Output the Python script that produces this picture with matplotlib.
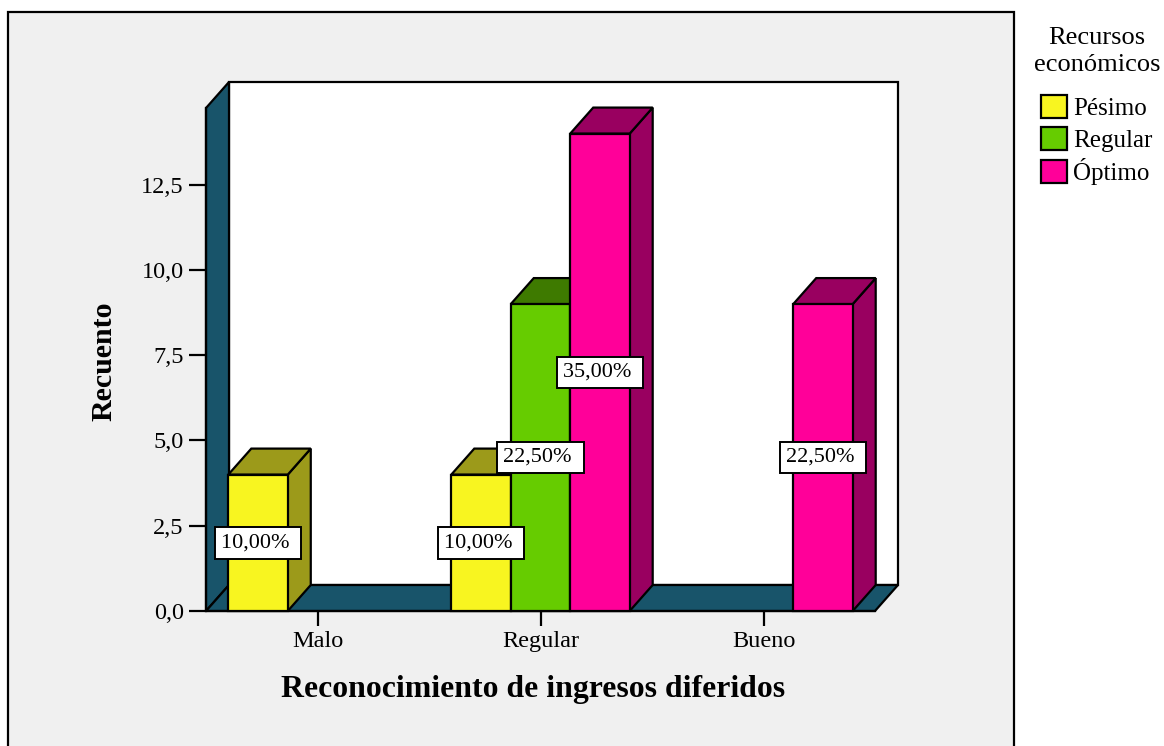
import matplotlib
matplotlib.use("Agg")
import matplotlib.pyplot as plt
from matplotlib.patches import Rectangle, Polygon, Patch

# ---- data ----
categories = ["Malo", "Regular", "Bueno"]
series = ["Pésimo", "Regular", "Óptimo"]
pesimo = [4, 4, 0]
regular = [0, 9, 0]
optimo = [0, 14, 9]
total = 40
yticks = [0.0, 2.5, 5.0, 7.5, 10.0, 12.5]
ytick_labels = ["0,0", "2,5", "5,0", "7,5", "10,0", "12,5"]
legend_title = "Recursos\neconómicos"
xlabel = "Reconocimiento de ingresos diferidos"
ylabel = "Recuento"

values = [pesimo, regular, optimo]
front_colors = ["#f8f520", "#66cc00", "#ff0099"]
dark_colors = ["#9c9a1a", "#3e7a00", "#990060"]
teal = "#18546a"

W, H = 1164, 746
fig = plt.figure(figsize=(W / 100, H / 100), dpi=100)
fig.patch.set_facecolor("white")
plt.rcParams["font.family"] = ["Liberation Serif", "DejaVu Serif"]

# outer grey frame
fig.patches.append(Rectangle((8 / W, -0.05), (1014 - 8) / W, (746 - 12) / H + 0.05,
                             transform=fig.transFigure, facecolor="#f0f0f0",
                             edgecolor="black", lw=1.6, zorder=-5))

left_px, right_px, y0_px, top_px = 206, 875, 611, 108
ax = fig.add_axes([left_px / W, (H - y0_px) / H, (right_px - left_px) / W,
                   (y0_px - top_px) / H])
ax.set_zorder(1)
ymax = 14.75
ax.set_xlim(-0.5, len(categories) - 0.5)
ax.set_ylim(0, ymax)
ax.set_facecolor("none")

# depth offsets (in data units) for the pseudo-3D look
DX = 23 * (len(categories)) / (right_px - left_px)
DY = 26 * ymax / (y0_px - top_px)
xl, xr = -0.5, len(categories) - 0.5

# back wall
ax.add_patch(Polygon([(xl + DX, DY), (xr + DX, DY), (xr + DX, ymax + DY), (xl + DX, ymax + DY)],
                     closed=True, facecolor="white", edgecolor="black", lw=1.6,
                     clip_on=False, zorder=0.5))
# left wall
ax.add_patch(Polygon([(xl, 0), (xl + DX, DY), (xl + DX, ymax + DY), (xl, ymax)],
                     closed=True, facecolor=teal, edgecolor="black", lw=1.6,
                     clip_on=False, zorder=0.6))
# floor
ax.add_patch(Polygon([(xl, 0), (xr, 0), (xr + DX, DY), (xl + DX, DY)],
                     closed=True, facecolor=teal, edgecolor="black", lw=1.6,
                     clip_on=False, zorder=0.6))

group = 0.8
bw = group / len(series)
z = 2
labels = []
for ci in range(len(categories)):
    for si in range(len(series)):
        v = values[si][ci]
        if v <= 0:
            continue
        x0 = ci - group / 2 + si * bw
        # side
        ax.add_patch(Polygon([(x0 + bw, 0), (x0 + bw + DX, DY), (x0 + bw + DX, v + DY), (x0 + bw, v)],
                             closed=True, facecolor=dark_colors[si], edgecolor="black",
                             lw=1.6, clip_on=False, zorder=z))
        # top
        ax.add_patch(Polygon([(x0, v), (x0 + bw, v), (x0 + bw + DX, v + DY), (x0 + DX, v + DY)],
                             closed=True, facecolor=dark_colors[si], edgecolor="black",
                             lw=1.6, clip_on=False, zorder=z))
        # front
        ax.add_patch(Rectangle((x0, 0), bw, v, facecolor=front_colors[si], edgecolor="black",
                               lw=1.6, clip_on=False, zorder=z + 0.1))
        z += 0.2
        pct = f"{v / total * 100:.2f}%".replace(".", ",")
        labels.append((x0 + bw / 2, v / 2, pct))

for x, y, t in labels:
    ax.text(x, y, t + " ", ha="center", va="center", fontsize=16, zorder=20,
            bbox=dict(boxstyle="square,pad=0.28", facecolor="white", edgecolor="black", lw=1.4))

ax.set_xticks(range(len(categories)))
ax.set_xticklabels(categories, fontsize=17.5)
ax.set_yticks(yticks)
ax.set_yticklabels(ytick_labels, fontsize=17.5)
ax.tick_params(axis="y", length=12, width=1.6, pad=4)
ax.tick_params(axis="x", length=11, width=1.6, pad=3.5)
for s in ["top", "right"]:
    ax.spines[s].set_visible(False)
for s in ["left", "bottom"]:
    ax.spines[s].set_linewidth(1.6)
    ax.spines[s].set_zorder(1)

fig.text(104 / W, 1 - 361 / H, ylabel, rotation=90, ha="center", va="center",
         fontsize=21.5, fontweight="bold")
fig.text(533 / W, 1 - 689 / H, xlabel, ha="center", va="center",
         fontsize=22.9, fontweight="bold")

# legend title (centered lines)
for i, line in enumerate(legend_title.split("\n")):
    fig.text(1097 / W, 1 - (38 + 27 * i) / H, line, ha="center", va="center", fontsize=19)

handles = [Patch(facecolor=c, edgecolor="black", lw=1.6) for c in front_colors]
leg = fig.legend(handles, series, loc="upper left",
                 bbox_to_anchor=(1041 / W, 1 - 95 / H), frameon=False,
                 fontsize=18, handlelength=1.05, handleheight=1.05,
                 handletextpad=0.25, labelspacing=0.26, borderaxespad=0, borderpad=0)

fig.savefig("out.png", dpi=100)
